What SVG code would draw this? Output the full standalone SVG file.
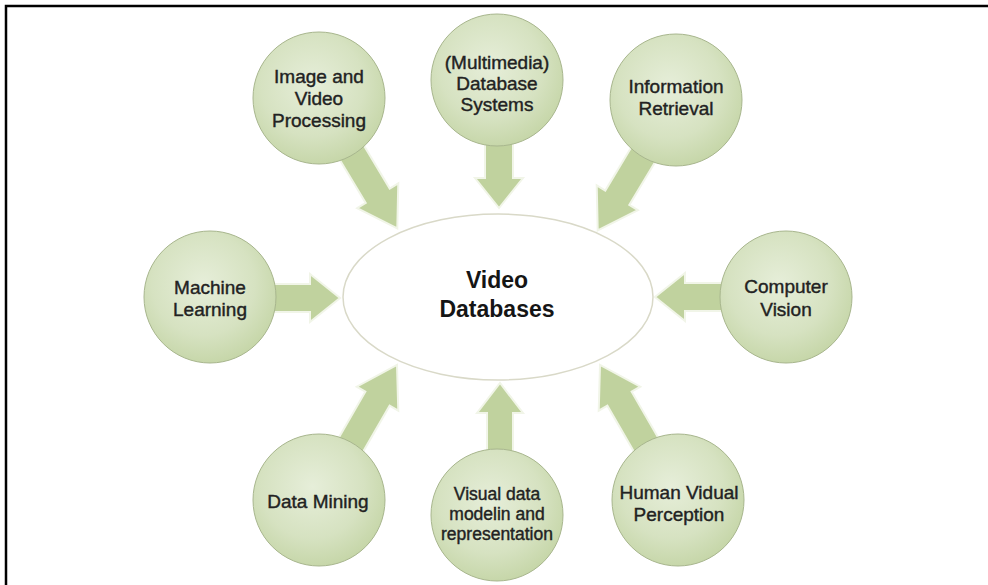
<svg xmlns="http://www.w3.org/2000/svg" width="988" height="585" viewBox="0 0 988 585">
<style>
.node circle{fill:url(#g);stroke:#a8b68e;stroke-width:1}
.lbl{font-family:"Liberation Sans",Arial,sans-serif;font-size:19px;fill:#222;stroke:#222;stroke-width:0.4;text-anchor:middle}
.big{font-family:"Liberation Sans",Arial,sans-serif;font-size:23px;font-weight:bold;fill:#151515;text-anchor:middle}
.arr{fill:#c0d29e;stroke:#f1f5e8;stroke-width:2;stroke-linejoin:miter}
</style>
<defs>
<radialGradient id="g" cx="0.45" cy="0.4" r="0.65">
<stop offset="0" stop-color="#e6eed9"/>
<stop offset="0.6" stop-color="#d6e2c1"/>
<stop offset="1" stop-color="#c3d4a4"/>
</radialGradient>
</defs>
<rect width="988" height="585" fill="#ffffff"/>
<path d="M6,585 V6 H988" fill="none" stroke="#000" stroke-width="2.5"/>
<g id="connectors">
<path class="arr" transform="translate(210,298) rotate(0) translate(60,0)" d="M0,-14 H40 V-24 L70,0 L40,24 V14 H0 Z"/>
<path class="arr" transform="translate(786,297) rotate(180) translate(60,0)" d="M0,-14 H41 V-24 L71,0 L41,24 V14 H0 Z"/>
<path class="arr" transform="translate(499,80) rotate(90) translate(60,0)" d="M0,-14 H38 V-24 L68,0 L38,24 V14 H0 Z"/>
<path class="arr" transform="translate(500,515) rotate(-90) translate(60,0)" d="M0,-13 H42 V-23 L72,0 L42,23 V13 H0 Z"/>
<path class="arr" transform="translate(319,98) rotate(59) translate(58,0)" d="M0,-14 H56 V-24 L94,0 L56,24 V14 H0 Z"/>
<path class="arr" transform="translate(676,100) rotate(121) translate(58,0)" d="M0,-14 H56 V-24 L94,0 L56,24 V14 H0 Z"/>
<path class="arr" transform="translate(319,500) rotate(-60) translate(58,0)" d="M0,-14 H59 V-24 L98,0 L59,24 V14 H0 Z"/>
<path class="arr" transform="translate(678,500) rotate(-120) translate(58,0)" d="M0,-14 H59 V-24 L98,0 L59,24 V14 H0 Z"/>
</g>
<g id="center">
<ellipse cx="498" cy="297" rx="155" ry="83" fill="#ffffff" stroke="#d9d9c8" stroke-width="1.5"/>
<text class="big" x="497" y="288">Video</text>
<text class="big" x="497" y="317">Databases</text>
</g>
<g id="n-image" class="node">
<circle cx="319" cy="98" r="66"/>
<text class="lbl" x="319" y="83">Image and</text>
<text class="lbl" x="319" y="105">Video</text>
<text class="lbl" x="319" y="127">Processing</text>
</g>
<g id="n-multimedia" class="node">
<circle cx="497" cy="80" r="66"/>
<text class="lbl" x="497" y="69">(Multimedia)</text>
<text class="lbl" x="497" y="90">Database</text>
<text class="lbl" x="497" y="111">Systems</text>
</g>
<g id="n-info" class="node">
<circle cx="676" cy="100" r="66"/>
<text class="lbl" x="676" y="93">Information</text>
<text class="lbl" x="676" y="115">Retrieval</text>
</g>
<g id="n-ml" class="node">
<circle cx="210" cy="297" r="66"/>
<text class="lbl" x="210" y="294">Machine</text>
<text class="lbl" x="210" y="316">Learning</text>
</g>
<g id="n-cv" class="node">
<circle cx="786" cy="297" r="66"/>
<text class="lbl" x="786" y="293">Computer</text>
<text class="lbl" x="786" y="316">Vision</text>
</g>
<g id="n-dm" class="node">
<circle cx="319" cy="500" r="66"/>
<text class="lbl" x="318" y="508">Data Mining</text>
</g>
<g id="n-visual" class="node">
<circle cx="497" cy="515" r="66"/>
<text class="lbl" x="497" y="500" style="font-size:17.5px">Visual data</text>
<text class="lbl" x="497" y="520" style="font-size:17.5px">modelin and</text>
<text class="lbl" x="497" y="540" style="font-size:17.5px">representation</text>
</g>
<g id="n-human" class="node">
<circle cx="678" cy="500" r="66"/>
<text class="lbl" x="679" y="499">Human Vidual</text>
<text class="lbl" x="679" y="521">Perception</text>
</g>
</svg>
